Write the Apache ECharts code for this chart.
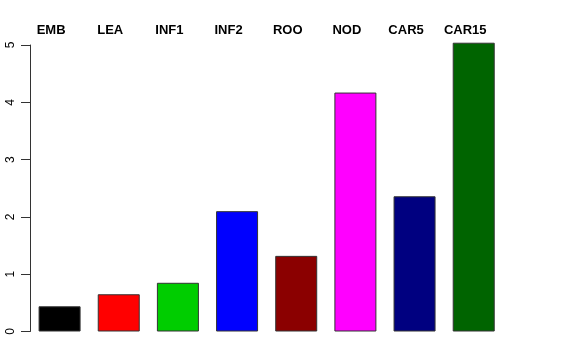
<!DOCTYPE html>
<html><head><meta charset="utf-8">
<script src="https://cdn.jsdelivr.net/npm/echarts@6/dist/echarts.min.js"></script>
<style>html,body{margin:0;padding:0;background:#fff}#c{width:576px;height:360px}</style>
</head><body><div id="c"></div>
<script>
var categories = ["EMB","LEA","INF1","INF2","ROO","NOD","CAR5","CAR15"];
var values = [0.44, 0.65, 0.85, 2.10, 1.32, 4.17, 2.36, 5.04];
var barColors = ["#000000","#FF0000","#00CD00","#0000FF","#8B0000","#FF00FF","#000080","#006400"];
var yTicks = [0,1,2,3,4,5];

var chart = echarts.init(document.getElementById('c'));
chart.setOption({
  animation: false,
  backgroundColor: '#fff',
  grid: {left: 30, right: 72.7, top: 45, bottom: 28.5},
  xAxis: {
    type: 'category', data: categories, position: 'top',
    axisLine: {show: false}, axisTick: {show: false},
    axisLabel: {fontFamily: 'Liberation Sans', fontWeight: 'bold', fontSize: 13, color: '#000', margin: 8, padding: [0, 17, 0, 0], interval: 0}
  },
  yAxis: {
    type: 'value', min: yTicks[0], max: yTicks[yTicks.length-1], interval: 1,
    axisLine: {show: true, lineStyle: {color: '#333', width: 1}},
    axisTick: {show: true, length: 9, lineStyle: {color: '#333'}},
    splitLine: {show: false},
    axisLabel: {rotate: 90, fontFamily: 'Liberation Sans', fontSize: 12, color: '#000', margin: 13}
  },
  series: [{
    type: 'bar', clip: false, barWidth: '71%',
    data: values.map(function(v, i){ return {value: v, itemStyle: {color: barColors[i]}}; }),
    itemStyle: {borderColor: '#333', borderWidth: 1}
  }]
});
</script></body></html>
